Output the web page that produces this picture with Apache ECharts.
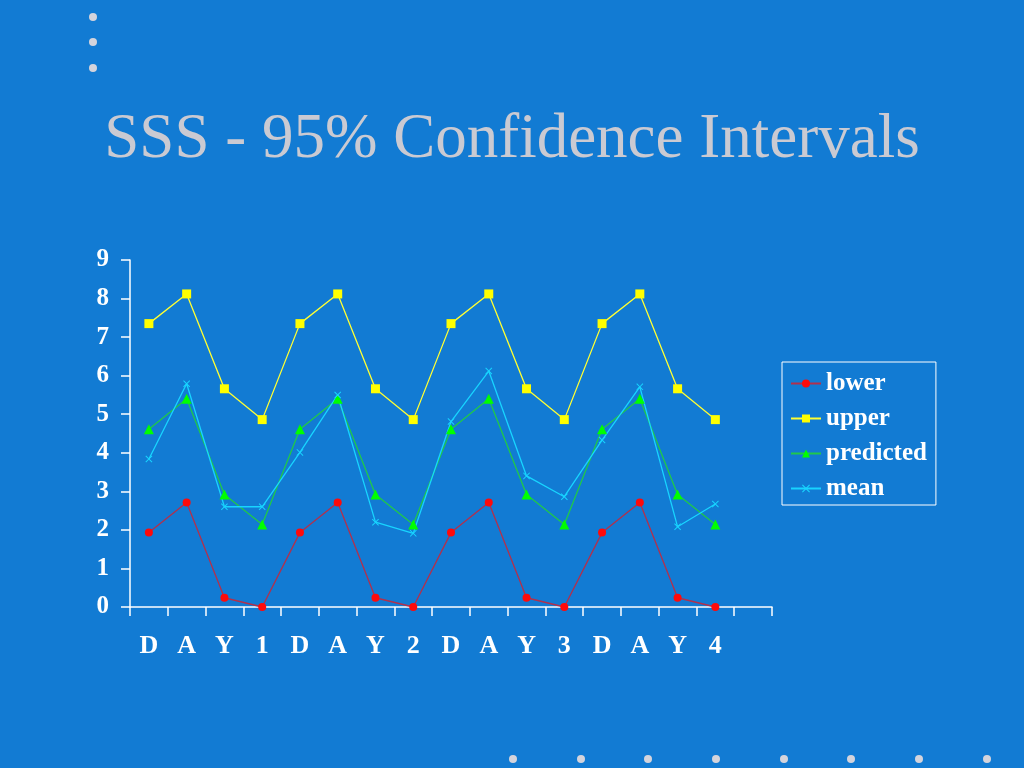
<!DOCTYPE html>
<html><head><meta charset="utf-8">
<script src="https://cdn.jsdelivr.net/npm/echarts@6/dist/echarts.min.js"></script>
<style>html,body{margin:0;padding:0;background:#127bd3;}#c{width:1024px;height:768px;}</style>
</head><body><div id="c"></div>
<script>
const categories = ['D','A','Y','1','D','A','Y','2','D','A','Y','3','D','A','Y','4',''];
const lower =     [1.93, 2.71, 0.24, 0.0, 1.93, 2.71, 0.24, 0.0, 1.93, 2.71, 0.24, 0.0, 1.93, 2.71, 0.24, 0.0];
const upper =     [7.35, 8.12, 5.66, 4.86, 7.35, 8.12, 5.66, 4.86, 7.35, 8.12, 5.66, 4.86, 7.35, 8.12, 5.66, 4.86];
const predicted = [4.61, 5.40, 2.92, 2.14, 4.61, 5.40, 2.92, 2.14, 4.61, 5.40, 2.92, 2.14, 4.61, 5.40, 2.92, 2.14];
const mean =      [3.84, 5.79, 2.60, 2.60, 4.01, 5.50, 2.20, 1.91, 4.81, 6.12, 3.40, 2.86, 4.33, 5.71, 2.08, 2.67];
const yTicks = { min: 0, max: 9, interval: 1 };

const serif = '"Liberation Serif","DejaVu Serif",serif';
const xPath = 'path://M0,1L1,0L5,4L9,0L10,1L6,5L10,9L9,10L5,6L1,10L0,9L4,5Z';
const chart = echarts.init(document.getElementById('c'));
const dots = [];
[17, 42, 68].forEach(y => dots.push({type:'circle', shape:{cx:93, cy:y, r:4}, style:{fill:'#d4d4dc'}}));
[513, 581, 648, 716, 784, 851, 919, 987].forEach(x => dots.push({type:'circle', shape:{cx:x, cy:759, r:4}, style:{fill:'#d4d4dc'}}));

function mk(name, data, lineColor, symColor, symbol, size) {
  return {
    name, type:'line', data, symbol, symbolSize:size,
    lineStyle:{color:lineColor, width:1.3},
    itemStyle:{color:symColor, borderWidth:0},
    emphasis:{disabled:true}, animation:false
  };
}

chart.setOption({
  backgroundColor:'#127bd3',
  animation:false,
  title:{
    text:'SSS - 95% Confidence Intervals',
    left:'center', top:104,
    textStyle:{fontFamily:serif, fontSize:63, fontWeight:'normal', color:'#cacad2'}
  },
  graphic: dots,
  grid:{left:130, right:252, top:260, bottom:161, containLabel:false},
  legend:{
    orient:'vertical', left:782, top:362, width:154,
    padding:[9,9,4,8], itemGap:10,
    borderColor:'#ffffff', borderWidth:1,
    itemWidth:30, itemHeight:10,
    textStyle:{fontFamily:serif, fontSize:25, fontWeight:'bold', color:'#ffffff', padding:[0,0,0,0]},
    data:['lower','upper','predicted','mean']
  },
  xAxis:{
    type:'category', data:categories, boundaryGap:true,
    axisLine:{lineStyle:{color:'#ffffff', width:1.5}},
    axisTick:{show:true, length:9, interval:0, lineStyle:{color:'#ffffff', width:1.5}},
    axisLabel:{interval:0, margin:26, fontFamily:serif, fontSize:26, fontWeight:'bold', color:'#ffffff'}
  },
  yAxis:{
    type:'value', min:yTicks.min, max:yTicks.max, interval:yTicks.interval,
    splitLine:{show:false},
    axisLine:{show:true, lineStyle:{color:'#ffffff', width:1.5}},
    axisTick:{show:true, length:9, lineStyle:{color:'#ffffff', width:1.5}},
    axisLabel:{margin:21, fontFamily:serif, fontSize:25, fontWeight:'bold', color:'#ffffff'}
  },
  series:[
    mk('lower', lower, '#b2304c', '#ff0a0a', 'circle', 8),
    mk('upper', upper, '#ffff33', '#ffff00', 'rect', 9),
    mk('predicted', predicted, '#20c84a', '#00ff00', 'triangle', 10),
    mk('mean', mean, '#18d4ff', '#18d4ff', xPath, 7)
  ]
});
</script></body></html>
